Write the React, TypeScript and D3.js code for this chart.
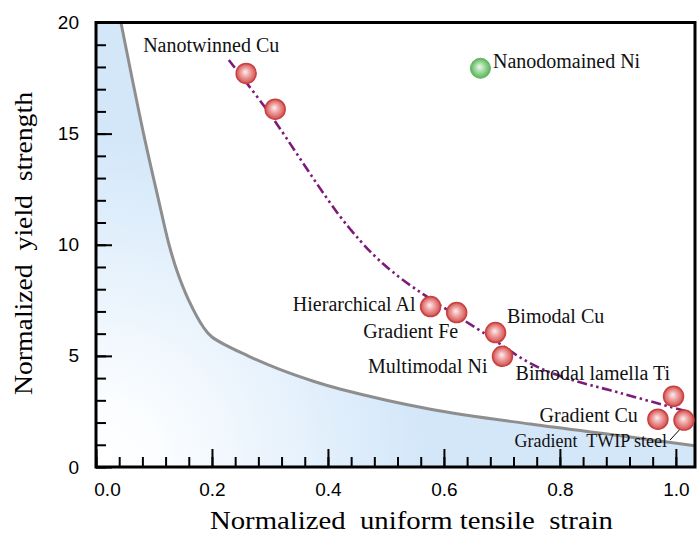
import * as d3 from "d3";
import { useRef, useEffect } from "react";

// measured points (normalized uniform strain, normalized yield strength)
const pointNames = [
  "Nanotwinned Cu",
  "",
  "Hierarchical Al",
  "Gradient Fe",
  "Bimodal Cu",
  "Multimodal Ni",
  "Bimodal lamella Ti",
  "Gradient Cu",
  "Gradient  TWIP steel",
];
const pointStrain = [0.259, 0.309, 0.577, 0.622, 0.689, 0.701, 0.996, 0.969, 1.014];
const pointStrength = [17.71, 16.1, 7.22, 6.95, 6.05, 4.98, 3.18, 2.15, 2.11];

const nanoName = "Nanodomained Ni";
const nanoStrain = 0.663;
const nanoStrength = 17.94;

// trend (dash-dot-dot) line
const trendStrain = [0.229, 0.295, 0.435, 0.512, 0.674, 0.748, 0.805, 0.904, 1.022];
const trendStrength = [18.31, 16.06, 10.81, 8.77, 5.94, 4.68, 4.05, 3.33, 2.48];

// banana curve (gray boundary of shaded region)
const boundStrain = [0.043, 0.082, 0.108, 0.126, 0.14, 0.16, 0.185, 0.2, 0.262, 0.318, 0.375, 0.422, 0.577, 0.749, 0.921, 1.033];
const boundStrength = [20, 15, 12, 10, 8.8, 7.5, 6.3, 5.85, 5.0, 4.38, 3.86, 3.5, 2.6, 1.93, 1.35, 0.95];

const xTicks = [0, 0.2, 0.4, 0.6, 0.8, 1.0];
const yTicks = [0, 5, 10, 15, 20];

// label placement relative to each marker (px)
const labelLayout: { dx: number; dy: number; anchor: string; size: number }[] = [
  { dx: -103, dy: -21, anchor: "start", size: 20 },
  { dx: 0, dy: 0, anchor: "start", size: 20 },
  { dx: -15, dy: 4.5, anchor: "end", size: 20 },
  { dx: 1.5, dy: 25.5, anchor: "end", size: 20 },
  { dx: 11.5, dy: -9.5, anchor: "start", size: 20 },
  { dx: -15, dy: 16.7, anchor: "end", size: 20 },
  { dx: -3.5, dy: -16.3, anchor: "end", size: 20 },
  { dx: -20, dy: 3, anchor: "end", size: 20 },
  { dx: -17, dy: 27, anchor: "end", size: 18 },
];

const serif = "Liberation Serif";
const sans = "Liberation Sans";

export default function App() {
  const width = 697;
  const height = 537;
  const gx = useRef<SVGGElement | null>(null);
  const gxMinor = useRef<SVGGElement | null>(null);
  const gy = useRef<SVGGElement | null>(null);
  const gyMinor = useRef<SVGGElement | null>(null);

  const x = d3.scaleLinear([0, 1.033], [96, 695]);
  const y = d3.scaleLinear([0, 20], [467, 22.5]);

  const xMinor = d3.range(0, 1.0001, 0.04);
  const yMinor = d3.range(0, 20, 1);

  const trendData: [number, number][] = trendStrain.map((s, i) => [s, trendStrength[i]]);
  const boundData: [number, number][] = boundStrain.map((s, i) => [s, boundStrength[i]]);

  const line = d3
    .line<[number, number]>()
    .x((d) => x(d[0]))
    .y((d) => y(d[1]))
    .curve(d3.curveCatmullRom.alpha(0.5));

  const boundPath = line(boundData) as string;
  const last = boundData[boundData.length - 1];
  const areaPath =
    `M${x(0)},${y(20)}L${x(boundData[0][0])},${y(boundData[0][1])}` +
    boundPath.replace(/^M/, "L") +
    `L${x(last[0])},${y(0)}L${x(0)},${y(0)}Z`;

  useEffect(() => {
    if (gx.current) {
      const g = d3
        .select(gx.current)
        .call(d3.axisBottom(x).tickValues(xTicks).tickSize(-18).tickPadding(16).tickFormat(d3.format(".1f")));
      g.select(".domain").remove();
      g.attr("font-size", 19).attr("font-family", sans);
      g.selectAll(".tick line").attr("stroke", "#000").attr("stroke-width", 2);
      g.selectAll(".tick text").attr("fill", "#000");
      g.select(".tick text").attr("x", 11);
    }
    if (gxMinor.current) {
      const g = d3
        .select(gxMinor.current)
        .call(d3.axisBottom(x).tickValues(xMinor).tickSize(-10).tickFormat(() => ""));
      g.select(".domain").remove();
      g.selectAll(".tick line").attr("stroke", "#000").attr("stroke-width", 2);
    }
    if (gy.current) {
      const g = d3
        .select(gy.current)
        .call(d3.axisLeft(y).tickValues(yTicks).tickSize(-16).tickPadding(17));
      g.select(".domain").remove();
      g.attr("font-size", 19).attr("font-family", sans);
      g.selectAll(".tick line").attr("stroke", "#000").attr("stroke-width", 2);
      g.selectAll(".tick text").attr("fill", "#000");
    }
    if (gyMinor.current) {
      const g = d3
        .select(gyMinor.current)
        .call(d3.axisLeft(y).tickValues(yMinor).tickSize(-10).tickFormat(() => ""));
      g.select(".domain").remove();
      g.selectAll(".tick line").attr("stroke", "#000").attr("stroke-width", 2);
    }
  }, [x, y]);

  return (
    <svg width={width} height={height} style={{ position: "absolute", left: 0, top: 0, background: "#fff" }}>
      <defs>
        <clipPath id="plotClip">
          <rect x={x(0)} y={y(20)} width={x(1.033) - x(0)} height={y(0) - y(20)} />
        </clipPath>
        <radialGradient id="shade" gradientUnits="userSpaceOnUse" cx={x(0)} cy={y(0)} r={330}>
          <stop offset="0" stopColor="#ffffff" />
          <stop offset="0.2" stopColor="#fbfdff" />
          <stop offset="1" stopColor="#d3e7f9" />
        </radialGradient>
        <radialGradient id="redBall" cx="50%" cy="50%" r="50%" fx="45%" fy="42%">
          <stop offset="0" stopColor="#fdf0f0" />
          <stop offset="0.45" stopColor="#eda3a2" />
          <stop offset="1" stopColor="#d4504f" />
        </radialGradient>
        <radialGradient id="greenBall" cx="50%" cy="50%" r="50%" fx="45%" fy="42%">
          <stop offset="0" stopColor="#eef9ee" />
          <stop offset="0.45" stopColor="#a6dca6" />
          <stop offset="1" stopColor="#58b458" />
        </radialGradient>
      </defs>

      <g clipPath="url(#plotClip)">
        <path d={areaPath} fill="url(#shade)" />
        <path d={boundPath} fill="none" stroke="#8e8e8e" strokeWidth={3} />
      </g>

      <path
        d={line(trendData) as string}
        fill="none"
        stroke="#7b1c7b"
        strokeWidth={2.6}
        strokeDasharray="10,3.5,2.5,3.5,2.5,3.5"
      />

      <g ref={gxMinor} transform={`translate(0,${y(0)})`} />
      <g ref={gyMinor} transform={`translate(${x(0)},0)`} />
      <g ref={gx} transform={`translate(0,${y(0)})`} />
      <g ref={gy} transform={`translate(${x(0)},0)`} />

      <rect
        x={x(0)}
        y={y(20)}
        width={x(1.033) - x(0)}
        height={y(0) - y(20)}
        fill="none"
        stroke="#000"
        strokeWidth={3}
      />

      {/* leader for the TWIP steel label */}
      <line
        x1={x(pointStrain[8]) - 14}
        y1={y(pointStrength[8]) + 20}
        x2={x(pointStrain[8]) - 2}
        y2={y(pointStrength[8]) + 7}
        stroke="#000"
        strokeWidth={1}
      />

      {pointStrain.map((s, i) => (
        <circle
          key={i}
          cx={x(s)}
          cy={y(pointStrength[i])}
          r={10}
          fill="url(#redBall)"
          stroke="#c8403f"
          strokeWidth={1.5}
        />
      ))}
      <circle cx={x(nanoStrain)} cy={y(nanoStrength)} r={10} fill="url(#greenBall)" stroke="#5ab55a" strokeWidth={1} />

      <g fontFamily={serif} fill="#111">
        {pointNames.map((name, i) =>
          name ? (
            <text
              key={i}
              x={x(pointStrain[i]) + labelLayout[i].dx}
              y={y(pointStrength[i]) + labelLayout[i].dy}
              textAnchor={labelLayout[i].anchor}
              fontSize={labelLayout[i].size}
              xmlSpace="preserve"
            >
              {name}
            </text>
          ) : null
        )}
        <text x={x(nanoStrain) + 12.5} y={y(nanoStrength)} fontSize={20}>
          {nanoName}
        </text>
      </g>

      <text
        x={411.5}
        y={529}
        textAnchor="middle"
        fontFamily={serif}
        fontSize={25}
        textLength={403}
        lengthAdjust="spacingAndGlyphs"
        xmlSpace="preserve"
      >
        {"Normalized  uniform tensile  strain"}
      </text>
      <text
        transform="translate(32,243.5) rotate(-90)"
        textAnchor="middle"
        fontFamily={serif}
        fontSize={26}
        textLength={303}
        lengthAdjust="spacingAndGlyphs"
        xmlSpace="preserve"
      >
        {"Normalized  yield  strength"}
      </text>
    </svg>
  );
}
